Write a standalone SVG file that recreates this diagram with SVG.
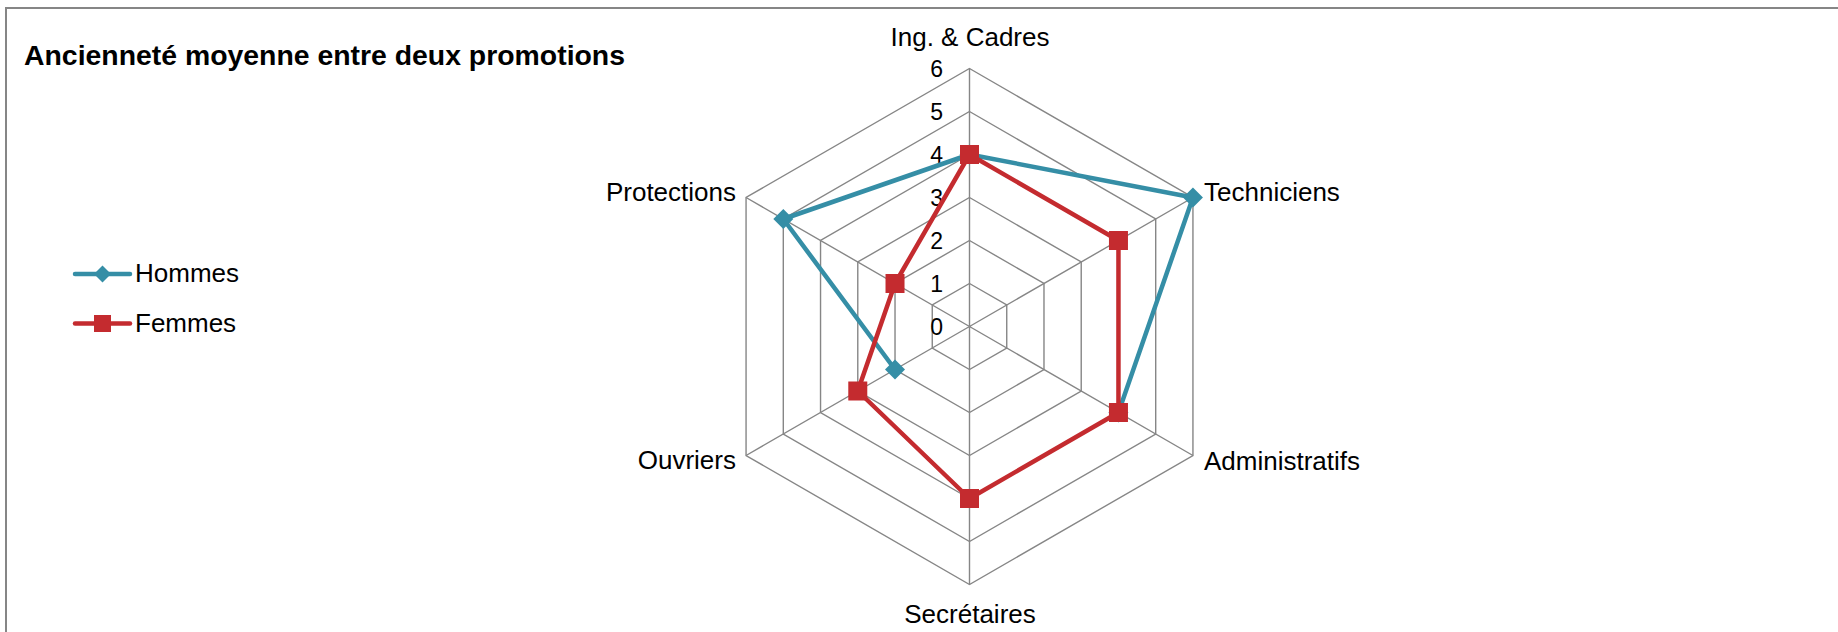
<svg xmlns="http://www.w3.org/2000/svg" width="1838" height="632" viewBox="0 0 1838 632">
<style>
.grid{fill:none;stroke:#868686;stroke-width:1.4}
.lbl{font-family:"Liberation Sans",Arial,sans-serif;font-size:26px;fill:#000}
.tick{font-family:"Liberation Sans",Arial,sans-serif;font-size:23px;fill:#000;text-anchor:end}
.title{font-family:"Liberation Sans",Arial,sans-serif;font-size:28px;font-weight:bold;fill:#000}
.h{fill:none;stroke:#358EA6;stroke-width:4.5;stroke-linejoin:round;stroke-linecap:round}
.f{fill:none;stroke:#C42B2F;stroke-width:4.5;stroke-linejoin:round;stroke-linecap:round}
.hm{fill:#358EA6}
.fm{fill:#C42B2F}
</style>
<defs>
<path id="dia" d="M0 -10 L10 0 L0 10 L-10 0 Z"/>
<rect id="sq" x="-9.5" y="-9.5" width="19" height="19"/>
</defs>
<rect x="0" y="0" width="1838" height="632" fill="#fff"/>
<path d="M6 632 L6 8 L1838 8" fill="none" stroke="#868686" stroke-width="2"/>
<text class="title" x="24" y="65" textLength="601" lengthAdjust="spacingAndGlyphs">Ancienneté moyenne entre deux promotions</text>
<g id="grid">
<polygon class="grid" points="969.5,283.5 1006.74,305 1006.74,348 969.5,369.5 932.26,348 932.26,305"/>
<polygon class="grid" points="969.5,240.5 1043.98,283.5 1043.98,369.5 969.5,412.5 895.02,369.5 895.02,283.5"/>
<polygon class="grid" points="969.5,197.5 1081.22,262 1081.22,391 969.5,455.5 857.78,391 857.78,262"/>
<polygon class="grid" points="969.5,154.5 1118.46,240.5 1118.46,412.5 969.5,498.5 820.54,412.5 820.54,240.5"/>
<polygon class="grid" points="969.5,111.5 1155.7,219 1155.7,434 969.5,541.5 783.3,434 783.3,219"/>
<polygon class="grid" points="969.5,68.5 1192.94,197.5 1192.94,455.5 969.5,584.5 746.06,455.5 746.06,197.5"/>
<path class="grid" d="M969.5 326.5 L969.5 68.5 M969.5 326.5 L1192.94 197.5 M969.5 326.5 L1192.94 455.5 M969.5 326.5 L969.5 584.5 M969.5 326.5 L746.06 455.5 M969.5 326.5 L746.06 197.5"/>
</g>
<g id="ticks">
<text class="tick" x="943" y="77">6</text>
<text class="tick" x="943" y="120">5</text>
<text class="tick" x="943" y="163">4</text>
<text class="tick" x="943" y="206">3</text>
<text class="tick" x="943" y="249">2</text>
<text class="tick" x="943" y="292">1</text>
<text class="tick" x="943" y="335">0</text>
</g>
<g id="axis-labels">
<text class="lbl" x="970" y="46" text-anchor="middle">Ing. &amp; Cadres</text>
<text class="lbl" x="1204" y="201">Techniciens</text>
<text class="lbl" x="1204" y="470">Administratifs</text>
<text class="lbl" x="970" y="623" text-anchor="middle">Secrétaires</text>
<text class="lbl" x="736" y="469" text-anchor="end">Ouvriers</text>
<text class="lbl" x="736" y="201" text-anchor="end">Protections</text>
</g>
<g id="connectors">
<path id="hommes-line" class="h" d="M895.02 369.5 L783.3 219 L969.5 154.5 L1192.94 197.5 L1118.46 412.5"/>
<g id="hommes-markers" class="hm">
<use href="#dia" x="969.5" y="154.5"/>
<use href="#dia" x="1192.94" y="197.5"/>
<use href="#dia" x="1118.46" y="412.5"/>
<use href="#dia" x="895.02" y="369.5"/>
<use href="#dia" x="783.3" y="219"/>
</g>
<polygon id="femmes-line" class="f" points="969.5,154.5 1118.46,240.5 1118.46,412.5 969.5,498.5 857.78,391 895.02,283.5"/>
<g id="femmes-markers" class="fm">
<use href="#sq" x="969.5" y="154.5"/>
<use href="#sq" x="1118.46" y="240.5"/>
<use href="#sq" x="1118.46" y="412.5"/>
<use href="#sq" x="969.5" y="498.5"/>
<use href="#sq" x="857.78" y="391"/>
<use href="#sq" x="895.02" y="283.5"/>
</g>
</g>
<g id="legend-hommes">
<line class="h" x1="75" y1="274" x2="130" y2="274"/>
<path class="hm" d="M102.5 265.5 L111 274 L102.5 282.5 L94 274 Z"/>
<text class="lbl" x="135" y="282">Hommes</text>
</g>
<g id="legend-femmes">
<line class="f" x1="75" y1="323.5" x2="130" y2="323.5"/>
<rect class="fm" x="94" y="315" width="17" height="17"/>
<text class="lbl" x="135" y="332">Femmes</text>
</g>
</svg>
